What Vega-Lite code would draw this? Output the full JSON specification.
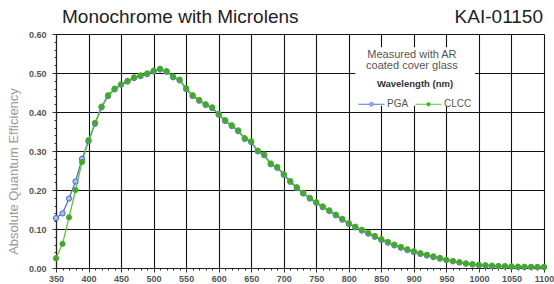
{
  "$schema": "https://vega.github.io/schema/vega-lite/v6.json",
  "width": 488,
  "height": 234,
  "autosize": {"type": "none"},
  "padding": {"left": 56, "top": 34, "right": 10, "bottom": 16},
  "background": "white",
  "config": {
    "font": "Liberation Sans",
    "view": {"stroke": null},
    "axis": {"labelFont": "Liberation Sans", "titleFont": "Liberation Sans"}
  },
  "datasets": {
    "qe": [
      {"wl": 350, "series": "PGA", "qe": 0.128}, {"wl": 360, "series": "PGA", "qe": 0.140}, {"wl": 370, "series": "PGA", "qe": 0.178},
      {"wl": 380, "series": "PGA", "qe": 0.222}, {"wl": 390, "series": "PGA", "qe": 0.280}, {"wl": 400, "series": "PGA", "qe": 0.325},
      {"wl": 410, "series": "PGA", "qe": 0.370}, {"wl": 420, "series": "PGA", "qe": 0.412}, {"wl": 430, "series": "PGA", "qe": 0.441},
      {"wl": 440, "series": "PGA", "qe": 0.458}, {"wl": 450, "series": "PGA", "qe": 0.470}, {"wl": 460, "series": "PGA", "qe": 0.478},
      {"wl": 470, "series": "PGA", "qe": 0.487}, {"wl": 480, "series": "PGA", "qe": 0.492}, {"wl": 490, "series": "PGA", "qe": 0.497},
      {"wl": 500, "series": "PGA", "qe": 0.504}, {"wl": 510, "series": "PGA", "qe": 0.509}, {"wl": 520, "series": "PGA", "qe": 0.503},
      {"wl": 530, "series": "PGA", "qe": 0.489}, {"wl": 540, "series": "PGA", "qe": 0.481}, {"wl": 550, "series": "PGA", "qe": 0.459},
      {"wl": 560, "series": "PGA", "qe": 0.441}, {"wl": 570, "series": "PGA", "qe": 0.429}, {"wl": 580, "series": "PGA", "qe": 0.418},
      {"wl": 590, "series": "PGA", "qe": 0.410}, {"wl": 600, "series": "PGA", "qe": 0.393}, {"wl": 610, "series": "PGA", "qe": 0.377},
      {"wl": 620, "series": "PGA", "qe": 0.364}, {"wl": 630, "series": "PGA", "qe": 0.351}, {"wl": 640, "series": "PGA", "qe": 0.331},
      {"wl": 650, "series": "PGA", "qe": 0.323}, {"wl": 660, "series": "PGA", "qe": 0.299}, {"wl": 670, "series": "PGA", "qe": 0.289},
      {"wl": 680, "series": "PGA", "qe": 0.266}, {"wl": 690, "series": "PGA", "qe": 0.257}, {"wl": 700, "series": "PGA", "qe": 0.239},
      {"wl": 710, "series": "PGA", "qe": 0.221}, {"wl": 720, "series": "PGA", "qe": 0.205}, {"wl": 730, "series": "PGA", "qe": 0.191},
      {"wl": 740, "series": "PGA", "qe": 0.178}, {"wl": 750, "series": "PGA", "qe": 0.167}, {"wl": 760, "series": "PGA", "qe": 0.156},
      {"wl": 770, "series": "PGA", "qe": 0.146}, {"wl": 780, "series": "PGA", "qe": 0.135}, {"wl": 790, "series": "PGA", "qe": 0.124},
      {"wl": 800, "series": "PGA", "qe": 0.113}, {"wl": 810, "series": "PGA", "qe": 0.104}, {"wl": 820, "series": "PGA", "qe": 0.096},
      {"wl": 830, "series": "PGA", "qe": 0.088}, {"wl": 840, "series": "PGA", "qe": 0.080}, {"wl": 850, "series": "PGA", "qe": 0.072},
      {"wl": 860, "series": "PGA", "qe": 0.065}, {"wl": 870, "series": "PGA", "qe": 0.058}, {"wl": 880, "series": "PGA", "qe": 0.052},
      {"wl": 890, "series": "PGA", "qe": 0.046}, {"wl": 900, "series": "PGA", "qe": 0.041}, {"wl": 910, "series": "PGA", "qe": 0.036},
      {"wl": 920, "series": "PGA", "qe": 0.032}, {"wl": 930, "series": "PGA", "qe": 0.028}, {"wl": 940, "series": "PGA", "qe": 0.024},
      {"wl": 950, "series": "PGA", "qe": 0.020}, {"wl": 960, "series": "PGA", "qe": 0.017}, {"wl": 970, "series": "PGA", "qe": 0.014},
      {"wl": 980, "series": "PGA", "qe": 0.011}, {"wl": 990, "series": "PGA", "qe": 0.009}, {"wl": 1000, "series": "PGA", "qe": 0.007},
      {"wl": 1010, "series": "PGA", "qe": 0.006}, {"wl": 1020, "series": "PGA", "qe": 0.005}, {"wl": 1030, "series": "PGA", "qe": 0.0045},
      {"wl": 1040, "series": "PGA", "qe": 0.004}, {"wl": 1050, "series": "PGA", "qe": 0.0035}, {"wl": 1060, "series": "PGA", "qe": 0.003},
      {"wl": 1070, "series": "PGA", "qe": 0.0028}, {"wl": 1080, "series": "PGA", "qe": 0.0026}, {"wl": 1090, "series": "PGA", "qe": 0.0024},
      {"wl": 1100, "series": "PGA", "qe": 0.0022},
      {"wl": 350, "series": "CLCC", "qe": 0.025}, {"wl": 360, "series": "CLCC", "qe": 0.062}, {"wl": 370, "series": "CLCC", "qe": 0.130},
      {"wl": 380, "series": "CLCC", "qe": 0.200}, {"wl": 390, "series": "CLCC", "qe": 0.272}, {"wl": 400, "series": "CLCC", "qe": 0.328},
      {"wl": 410, "series": "CLCC", "qe": 0.372}, {"wl": 420, "series": "CLCC", "qe": 0.414}, {"wl": 430, "series": "CLCC", "qe": 0.443},
      {"wl": 440, "series": "CLCC", "qe": 0.460}, {"wl": 450, "series": "CLCC", "qe": 0.471}, {"wl": 460, "series": "CLCC", "qe": 0.480},
      {"wl": 470, "series": "CLCC", "qe": 0.489}, {"wl": 480, "series": "CLCC", "qe": 0.494}, {"wl": 490, "series": "CLCC", "qe": 0.499},
      {"wl": 500, "series": "CLCC", "qe": 0.506}, {"wl": 510, "series": "CLCC", "qe": 0.511}, {"wl": 520, "series": "CLCC", "qe": 0.505},
      {"wl": 530, "series": "CLCC", "qe": 0.491}, {"wl": 540, "series": "CLCC", "qe": 0.483}, {"wl": 550, "series": "CLCC", "qe": 0.461},
      {"wl": 560, "series": "CLCC", "qe": 0.443}, {"wl": 570, "series": "CLCC", "qe": 0.431}, {"wl": 580, "series": "CLCC", "qe": 0.420},
      {"wl": 590, "series": "CLCC", "qe": 0.412}, {"wl": 600, "series": "CLCC", "qe": 0.395}, {"wl": 610, "series": "CLCC", "qe": 0.379},
      {"wl": 620, "series": "CLCC", "qe": 0.366}, {"wl": 630, "series": "CLCC", "qe": 0.353}, {"wl": 640, "series": "CLCC", "qe": 0.333},
      {"wl": 650, "series": "CLCC", "qe": 0.325}, {"wl": 660, "series": "CLCC", "qe": 0.301}, {"wl": 670, "series": "CLCC", "qe": 0.291},
      {"wl": 680, "series": "CLCC", "qe": 0.268}, {"wl": 690, "series": "CLCC", "qe": 0.259}, {"wl": 700, "series": "CLCC", "qe": 0.241},
      {"wl": 710, "series": "CLCC", "qe": 0.223}, {"wl": 720, "series": "CLCC", "qe": 0.207}, {"wl": 730, "series": "CLCC", "qe": 0.193},
      {"wl": 740, "series": "CLCC", "qe": 0.180}, {"wl": 750, "series": "CLCC", "qe": 0.169}, {"wl": 760, "series": "CLCC", "qe": 0.158},
      {"wl": 770, "series": "CLCC", "qe": 0.148}, {"wl": 780, "series": "CLCC", "qe": 0.137}, {"wl": 790, "series": "CLCC", "qe": 0.126},
      {"wl": 800, "series": "CLCC", "qe": 0.115}, {"wl": 810, "series": "CLCC", "qe": 0.106}, {"wl": 820, "series": "CLCC", "qe": 0.098},
      {"wl": 830, "series": "CLCC", "qe": 0.090}, {"wl": 840, "series": "CLCC", "qe": 0.082}, {"wl": 850, "series": "CLCC", "qe": 0.074},
      {"wl": 860, "series": "CLCC", "qe": 0.067}, {"wl": 870, "series": "CLCC", "qe": 0.060}, {"wl": 880, "series": "CLCC", "qe": 0.054},
      {"wl": 890, "series": "CLCC", "qe": 0.048}, {"wl": 900, "series": "CLCC", "qe": 0.043}, {"wl": 910, "series": "CLCC", "qe": 0.038},
      {"wl": 920, "series": "CLCC", "qe": 0.034}, {"wl": 930, "series": "CLCC", "qe": 0.030}, {"wl": 940, "series": "CLCC", "qe": 0.026},
      {"wl": 950, "series": "CLCC", "qe": 0.021}, {"wl": 960, "series": "CLCC", "qe": 0.018}, {"wl": 970, "series": "CLCC", "qe": 0.015},
      {"wl": 980, "series": "CLCC", "qe": 0.012}, {"wl": 990, "series": "CLCC", "qe": 0.010}, {"wl": 1000, "series": "CLCC", "qe": 0.008},
      {"wl": 1010, "series": "CLCC", "qe": 0.007}, {"wl": 1020, "series": "CLCC", "qe": 0.006}, {"wl": 1030, "series": "CLCC", "qe": 0.005},
      {"wl": 1040, "series": "CLCC", "qe": 0.0045}, {"wl": 1050, "series": "CLCC", "qe": 0.004}, {"wl": 1060, "series": "CLCC", "qe": 0.0035},
      {"wl": 1070, "series": "CLCC", "qe": 0.003}, {"wl": 1080, "series": "CLCC", "qe": 0.003}, {"wl": 1090, "series": "CLCC", "qe": 0.0028},
      {"wl": 1100, "series": "CLCC", "qe": 0.0025}
    ],
    "notes": [
      {"wl": 350, "qe": 0.6, "label": "Monochrome with Microlens"},
      {"wl": 1100, "qe": 0.6, "label": "KAI-01150"}
    ],
    "box": [
      {"wl": 810, "wl2": 994, "qe": 0.416, "qe2": 0.566}
    ],
    "boxtext": [
      {"wl": 897, "qe": 0.536, "line1": "Measured with AR", "line2": "coated cover glass"}
    ]
  },
  "encoding": {
    "x": {
      "field": "wl", "type": "quantitative", "title": null,
      "scale": {"domain": [350, 1100], "nice": false, "zero": false},
      "axis": {
        "title": null,
        "values": [350,360,370,380,390,400,410,420,430,440,450,460,470,480,490,500,510,520,530,540,550,560,570,580,590,600,610,620,630,640,650,660,670,680,690,700,710,720,730,740,750,760,770,780,790,800,810,820,830,840,850,860,870,880,890,900,910,920,930,940,950,960,970,980,990,1000,1010,1020,1030,1040,1050,1060,1070,1080,1090,1100],
        "labelExpr": "datum.value % 50 == 0 ? format(datum.value, 'd') : ''",
        "labelFontSize": 9,
        "labelFontWeight": "bold",
        "labelColor": "#555555",
        "labelPadding": 2,
        "labelFlush": false,
        "labelOverlap": false,
        "domainColor": "#222222",
        "domainWidth": 1.2,
        "tickColor": "#333333",
        "tickSize": {"condition": {"test": "datum.value % 50 == 0", "value": 4}, "value": 2},
        "grid": true,
        "gridColor": "#111111",
        "gridWidth": 1.1,
        "gridOpacity": {"condition": {"test": "datum.value % 50 == 0", "value": 1}, "value": 0}
      }
    },
    "y": {
      "field": "qe", "type": "quantitative", "title": "Absolute Quantum Efficiency",
      "scale": {"domain": [0, 0.6], "nice": false},
      "axis": {
        "title": "Absolute Quantum Efficiency",
        "titleFontSize": 13,
        "titleFontWeight": "normal",
        "titleColor": "#9a9a9a",
        "titlePadding": 8,
        "titleY": 137,
        "values": [0,0.02,0.04,0.06,0.08,0.1,0.12,0.14,0.16,0.18,0.2,0.22,0.24,0.26,0.28,0.3,0.32,0.34,0.36,0.38,0.4,0.42,0.44,0.46,0.48,0.5,0.52,0.54,0.56,0.58,0.6],
        "labelExpr": "round(datum.value*100) % 10 == 0 ? format(datum.value, '.2f') : ''",
        "labelFontSize": 9,
        "labelFontWeight": "bold",
        "labelColor": "#555555",
        "labelPadding": 6,
        "labelFlush": false,
        "labelOverlap": false,
        "domainColor": "#222222",
        "domainWidth": 1.2,
        "tickColor": "#333333",
        "tickSize": {"condition": {"test": "round(datum.value*100) % 10 == 0", "value": 4}, "value": 2},
        "grid": true,
        "gridColor": "#111111",
        "gridWidth": 1.1,
        "gridOpacity": {"condition": {"test": "round(datum.value*100) % 10 == 0", "value": 1}, "value": 0}
      }
    }
  },
  "layer": [
    {
      "data": {"name": "box"},
      "mark": {"type": "rect", "fill": "white", "strokeWidth": 0},
      "encoding": {
        "x2": {"field": "wl2"},
        "y2": {"field": "qe2"}
      }
    },
    {
      "data": {"name": "boxtext"},
      "mark": {"type": "text", "fontSize": 11, "color": "#555555", "align": "center", "baseline": "middle", "dy": -4},
      "encoding": {"text": {"field": "line1"}}
    },
    {
      "data": {"name": "boxtext"},
      "mark": {"type": "text", "fontSize": 11, "color": "#555555", "align": "center", "baseline": "middle", "dy": 7},
      "encoding": {"text": {"field": "line2"}}
    },
    {
      "data": {"name": "notes"},
      "transform": [{"filter": "datum.wl == 350"}],
      "mark": {"type": "text", "fontSize": 19, "color": "#222222", "baseline": "alphabetic", "align": "left", "dy": -11, "dx": 6},
      "encoding": {"text": {"field": "label"}}
    },
    {
      "data": {"name": "notes"},
      "transform": [{"filter": "datum.wl == 1100"}],
      "mark": {"type": "text", "fontSize": 19, "color": "#222222", "baseline": "alphabetic", "align": "right", "dy": -11, "dx": -1},
      "encoding": {"text": {"field": "label"}}
    },
    {
      "data": {"name": "qe"},
      "mark": {"type": "line", "strokeWidth": 1.3},
      "encoding": {
        "color": {
          "field": "series", "type": "nominal",
          "scale": {"domain": ["PGA", "CLCC"], "range": ["#5470d0", "#5cc43a"]},
          "legend": {
            "orient": "none",
            "legendX": 302,
            "legendY": 45,
            "direction": "horizontal",
            "title": "Wavelength (nm)",
            "titleFontSize": 9.5,
            "titleFontWeight": "bold",
            "titleColor": "#333333",
            "titleAnchor": "middle",
            "titlePadding": 2,
            "labelFontSize": 10,
            "labelColor": "#555555",
            "labelOffset": 2,
            "symbolType": "M-1,0H-0.14M0.14,0H1M-0.14,0A0.14,0.14 0 1,1 0.14,0A0.14,0.14 0 1,1 -0.14,0Z",
            "symbolSize": 676,
            "symbolStrokeWidth": 1,
            "columnPadding": 4
          }
        },
        "order": {"field": "wl", "type": "quantitative"}
      }
    },
    {
      "data": {"name": "qe"},
      "mark": {"type": "point", "filled": true, "size": 28, "strokeWidth": 1, "opacity": 1},
      "encoding": {
        "fill": {
          "field": "series", "type": "nominal",
          "scale": {"domain": ["PGA", "CLCC"], "range": ["#a9bdf0", "#46a52e"]},
          "legend": null
        },
        "stroke": {
          "field": "series", "type": "nominal",
          "scale": {"domain": ["PGA", "CLCC"], "range": ["#4a68cc", "#4cb030"]},
          "legend": null
        }
      }
    }
  ]
}
